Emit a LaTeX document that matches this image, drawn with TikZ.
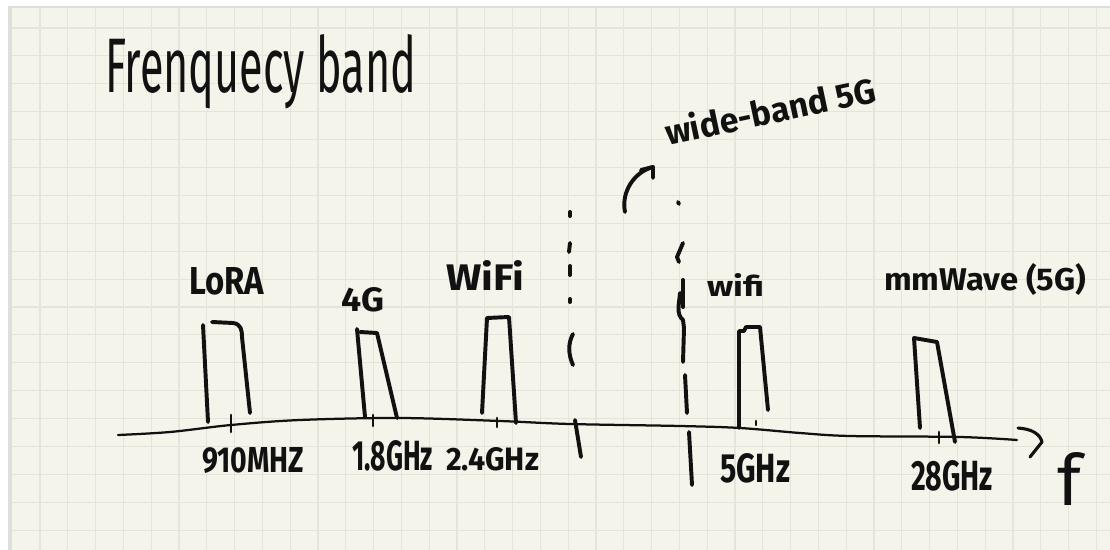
\documentclass[tikz,border=0pt]{standalone}
\usepackage{fontspec}
\setmainfont{Fira Sans}
\usepackage{graphicx}
\newlength\pxu
\setlength\pxu{0.025cm}
\newcommand\hw[3]{\resizebox{#1\pxu}{#2\pxu}{#3}}
\definecolor{paper}{RGB}{245,244,234}
\definecolor{gridc}{RGB}{228,228,218}
\definecolor{edgec}{RGB}{222,222,220}
\definecolor{inkc}{RGB}{17,17,17}
\begin{document}
\begin{tikzpicture}[x=0.025cm,y=-0.025cm,
  ink/.style={draw=inkc,line width=2.8pt,line cap=round,line join=round},
  axisline/.style={draw=inkc,line width=1.6pt,line cap=round,line join=round},
  tickmark/.style={draw=inkc,line width=1.8pt,line cap=round},
  lbl/.style={inner sep=0pt,outer sep=0pt,anchor=base west,text=inkc,font=\bfseries}]
\useasboundingbox (0,0) rectangle (1110,550);
\fill[white] (0,0) rectangle (1110,550);
\fill[paper] (8,7) rectangle (1110,550);
\foreach \k in {0,...,38} \draw[gridc,line width=0.8pt] ({40+27.8*\k},7) -- ({40+27.8*\k},550);
\foreach \k in {0,...,18} \draw[gridc,line width=0.8pt] (8,{28+27.9*\k}) -- (1110,{28+27.9*\k});
\fill[edgec] (8,7) rectangle (12,550);
\draw[edgec,line width=1pt] (8,7) -- (1110,7);

% title
\node[lbl,font=\mdseries] (title) at (105,93) {\hw{311}{58}{Frenquecy band}};
% wide-band 5G
\node[lbl,rotate=12] (wide) at (668,146) {\hw{214}{28}{wide-band 5G}};
\coordinate (arrS) at (625,212);
\coordinate (arrE) at (653,167);
\draw[ink] (arrS) .. controls (621,192) and (634,172) .. (arrE);
\draw[ink] (641,170) -- (arrE) -- (653,178);

% band labels
\node[lbl] (lora) at (189,295) {\hw{75}{27}{LoRA}};
\node[lbl] (g4) at (341,312) {\hw{43}{24}{4G}};
\node[lbl] (wifiA) at (446,290) {\hw{78}{30}{WiFi}};
\node[lbl] (wifiB) at (707,296) {\hw{57}{23}{wifi}};
\node[lbl] (mmw) at (884,290) {\hw{202}{27}{mmWave (5G)}};

% frequency labels
\node[lbl] (f910) at (202,472) {\hw{102}{25}{910MHZ}};
\node[lbl] (f18) at (352,470) {\hw{81}{30}{1.8GHz}};
\node[lbl] (f24) at (446,470) {\hw{93}{23}{2.4GHz}};
\node[lbl] (f5) at (720,482) {\hw{70}{29}{5GHz}};
\node[lbl] (f28) at (911,490) {\hw{82}{30}{28GHz}};
\node[lbl,font=\mdseries] (fax) at (1057,505) {\hw{24}{53}{f}};

% axis
\coordinate (ax0) at (118,435);
\coordinate (ax1) at (1017,440);
\draw[axisline] plot[smooth,tension=0.55] coordinates {(ax0) (170,432) (231,425) (300,420) (400,418) (500,421) (570,424) (680,426) (740,428) (800,433) (850,436) (960,437) (ax1)};
\coordinate (tipA) at (1018,428);
\coordinate (tipB) at (1042,442);
\coordinate (tipC) at (1030,457);
\draw[ink,line width=2.2pt] (tipA) .. controls (1032,429) and (1040,434) .. (tipB) -- (tipC);

% bands
\draw[ink] (208,422) -- (203,325);
\draw[ink] (212,322) -- (233,323) .. controls (241,324) and (242,330) .. (242,337) -- (250,413);
\draw[ink] (365,417) -- (357,329);
\draw[ink] (360,332) -- (377,333) -- (397,418);
\draw[ink] (482,413) -- (487,318) -- (509,317) -- (516,423);
\draw[ink] (739,428) -- (739,331) -- (744,331) -- (746,327) -- (760,327) -- (768,410);
\draw[ink] (920,428) -- (914,338) -- (937,342) -- (955,442);

% ticks
\draw[tickmark] (231,415) -- (231,432);
\draw[tickmark] (373,415) -- (373,426);
\draw[tickmark] (497,418) -- (497,427);
\draw[tickmark] (756,421) -- (756,425);
\draw[tickmark] (939,432) -- (939,443);

% left dashed boundary
\draw[ink] (570,212) -- (570,216);
\draw[ink] (570,243) -- (569,252);
\draw[ink] (570,266) -- (570,275);
\draw[ink] (570,299) -- (570,302);
\draw[ink] (573,334) .. controls (568,343) and (568,354) .. (573,365);
\draw[ink] (575,420) -- (581,457);

% right dashed boundary
\draw[ink] (678,202) -- (679,204);
\draw[ink] (683,243) -- (677,257) -- (679,262);
\draw[ink] (683,280) -- (683,307);
\draw[ink] (680,293) .. controls (679,305) and (676,314) .. (683,320) -- (684,328) -- (683,362);
\draw[ink] (685,375) -- (687,413);
\draw[ink] (689,432) -- (692,485);
\end{tikzpicture}
\end{document}
